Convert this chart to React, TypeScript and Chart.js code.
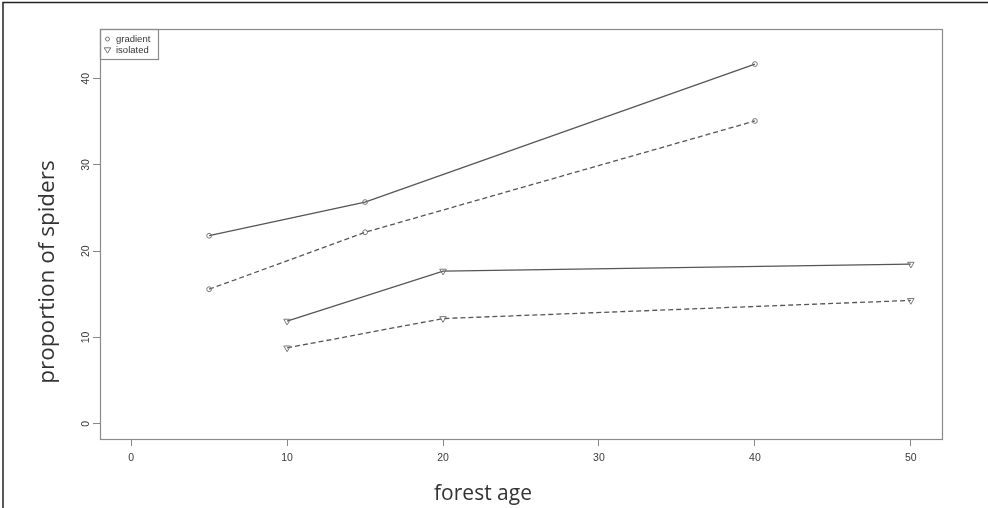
import React, { useEffect, useRef } from 'react';
import { Chart, registerables } from 'chart.js';

Chart.register(...registerables);

// ---- data ----
const gradientAges = [5, 15, 40];
const gradientSolid = [21.8, 25.7, 41.7];
const gradientDashed = [15.6, 22.2, 35.1];
const isolatedAges = [10, 20, 50];
const isolatedSolid = [11.9, 17.7, 18.5];
const isolatedDashed = [8.8, 12.2, 14.3];
const xTickValues = [0, 10, 20, 30, 40, 50];
const yTickValues = [0, 10, 20, 30, 40];
const legendLabels = ['gradient', 'isolated'];
const xTitle = 'forest age';
const yTitle = 'proportion of spiders';

const LINE = '#555555';

const pts = (xs: number[], ys: number[]) => xs.map((x, i) => ({ x, y: ys[i] }));

const framePlugin = {
  id: 'frameDecor',
  beforeDraw(chart: any) {
    const { ctx, width, height } = chart;
    ctx.save();
    ctx.fillStyle = '#ffffff';
    ctx.fillRect(0, 0, width, height);
    ctx.restore();
  },
  afterDraw(chart: any) {
    const { ctx, chartArea: a } = chart;
    ctx.save();
    // page border (top & left)
    ctx.strokeStyle = '#222';
    ctx.lineWidth = 1.5;
    ctx.beginPath();
    ctx.moveTo(3, 508);
    ctx.lineTo(3, 2.5);
    ctx.lineTo(988, 2.5);
    ctx.stroke();

    // plot box
    ctx.strokeStyle = '#8a8a8a';
    ctx.lineWidth = 1.2;
    ctx.strokeRect(Math.round(a.left) + 0.5, Math.round(a.top) + 0.5, Math.round(a.right - a.left), Math.round(a.bottom - a.top));

    // legend box
    const lx = Math.round(a.left) + 0.5;
    const ly = Math.round(a.top) + 0.5;
    ctx.strokeRect(lx, ly, 58, 30);
    ctx.fillStyle = '#333';
    ctx.font = '9.5px "Liberation Sans", Arial, sans-serif';
    ctx.textBaseline = 'middle';
    ctx.textAlign = 'left';
    // circle symbol
    ctx.strokeStyle = '#777';
    ctx.lineWidth = 1;
    ctx.beginPath();
    ctx.arc(a.left + 7.5, a.top + 10, 2, 0, Math.PI * 2);
    ctx.stroke();
    ctx.fillText(legendLabels[0], a.left + 16, a.top + 10.5);
    // triangle symbol (pointing down)
    const tx = a.left + 7.5, ty = a.top + 21;
    ctx.beginPath();
    ctx.moveTo(tx - 3.3, ty - 2.2);
    ctx.lineTo(tx + 3.3, ty - 2.2);
    ctx.lineTo(tx, ty + 3.2);
    ctx.closePath();
    ctx.stroke();
    ctx.fillText(legendLabels[1], a.left + 16, a.top + 21.5);

    // axis titles
    ctx.fillStyle = '#333';
    ctx.font = '21px "Open Sans", sans-serif';
    ctx.textAlign = 'center';
    ctx.textBaseline = 'alphabetic';
    ctx.fillText(xTitle, 483, 500);
    ctx.font = '22.5px "Open Sans", sans-serif';
    ctx.translate(54, 272);
    ctx.rotate(-Math.PI / 2);
    ctx.fillText(yTitle, 0, 0);
    ctx.restore();
  },
};

export default function App() {
  const ref = useRef<HTMLCanvasElement | null>(null);
  useEffect(() => {
    document.body.style.margin = '0';
    const canvas = ref.current;
    if (!canvas) return;
    const lineDs = (label: string, data: any[], dashed: boolean, tri: boolean) => ({
      label,
      data,
      borderColor: LINE,
      borderWidth: 1.3,
      borderDash: dashed ? [5, 3] : [],
      backgroundColor: '#ffffff',
      pointBackgroundColor: 'rgba(255,255,255,0)',
      pointBorderColor: '#777',
      pointBorderWidth: 1,
      pointStyle: tri ? 'triangle' : 'circle',
      pointRotation: tri ? 180 : 0,
      pointRadius: tri ? 3.8 : 2.4,
      tension: 0,
      fill: false,
    });
    const chart = new Chart(canvas, {
      type: 'line',
      data: {
        datasets: [
          lineDs('gradient', pts(gradientAges, gradientSolid), false, false),
          lineDs('gradient dashed', pts(gradientAges, gradientDashed), true, false),
          lineDs('isolated', pts(isolatedAges, isolatedSolid), false, true),
          lineDs('isolated dashed', pts(isolatedAges, isolatedDashed), true, true),
        ],
      },
      options: {
        responsive: false,
        animation: false,
        devicePixelRatio: 1,
        layout: { padding: { top: 29, right: 46, left: 0, bottom: 0 } },
        plugins: {
          legend: { display: false },
          tooltip: { enabled: false },
        },
        scales: {
          x: {
            type: 'linear',
            min: -2,
            max: 52,
            afterFit: (s: any) => { s.height = 69; },
            afterBuildTicks: (s: any) => { s.ticks = xTickValues.map((v) => ({ value: v })); },
            grid: { display: true, drawOnChartArea: false, drawTicks: true, tickLength: 7, tickColor: '#888', tickWidth: 1 },
            border: { display: false },
            ticks: {
              padding: 6,
              color: '#3a3a3a',
              font: { size: 10.5, family: '"Liberation Sans", Arial, sans-serif' },
              maxRotation: 0,
              minRotation: 0,
              autoSkip: false,
              callback: (v: any) => String(v),
            },
          },
          y: {
            type: 'linear',
            min: -1.76,
            max: 45.76,
            afterFit: (s: any) => { s.width = 100; },
            afterBuildTicks: (s: any) => { s.ticks = yTickValues.map((v) => ({ value: v })); },
            grid: { display: true, drawOnChartArea: false, drawTicks: true, tickLength: 7, tickColor: '#888', tickWidth: 1 },
            border: { display: false },
            ticks: {
              padding: 1,
              color: '#3a3a3a',
              font: { size: 10.5, family: '"Liberation Sans", Arial, sans-serif' },
              minRotation: 90,
              maxRotation: 90,
              crossAlign: 'center',
              autoSkip: false,
              callback: (v: any) => String(v),
            },
          },
        },
      },
      plugins: [framePlugin],
    } as any);
    return () => chart.destroy();
  }, []);
  return <canvas ref={ref} width={988} height={508} style={{ display: 'block', width: 988, height: 508 }} />;
}
